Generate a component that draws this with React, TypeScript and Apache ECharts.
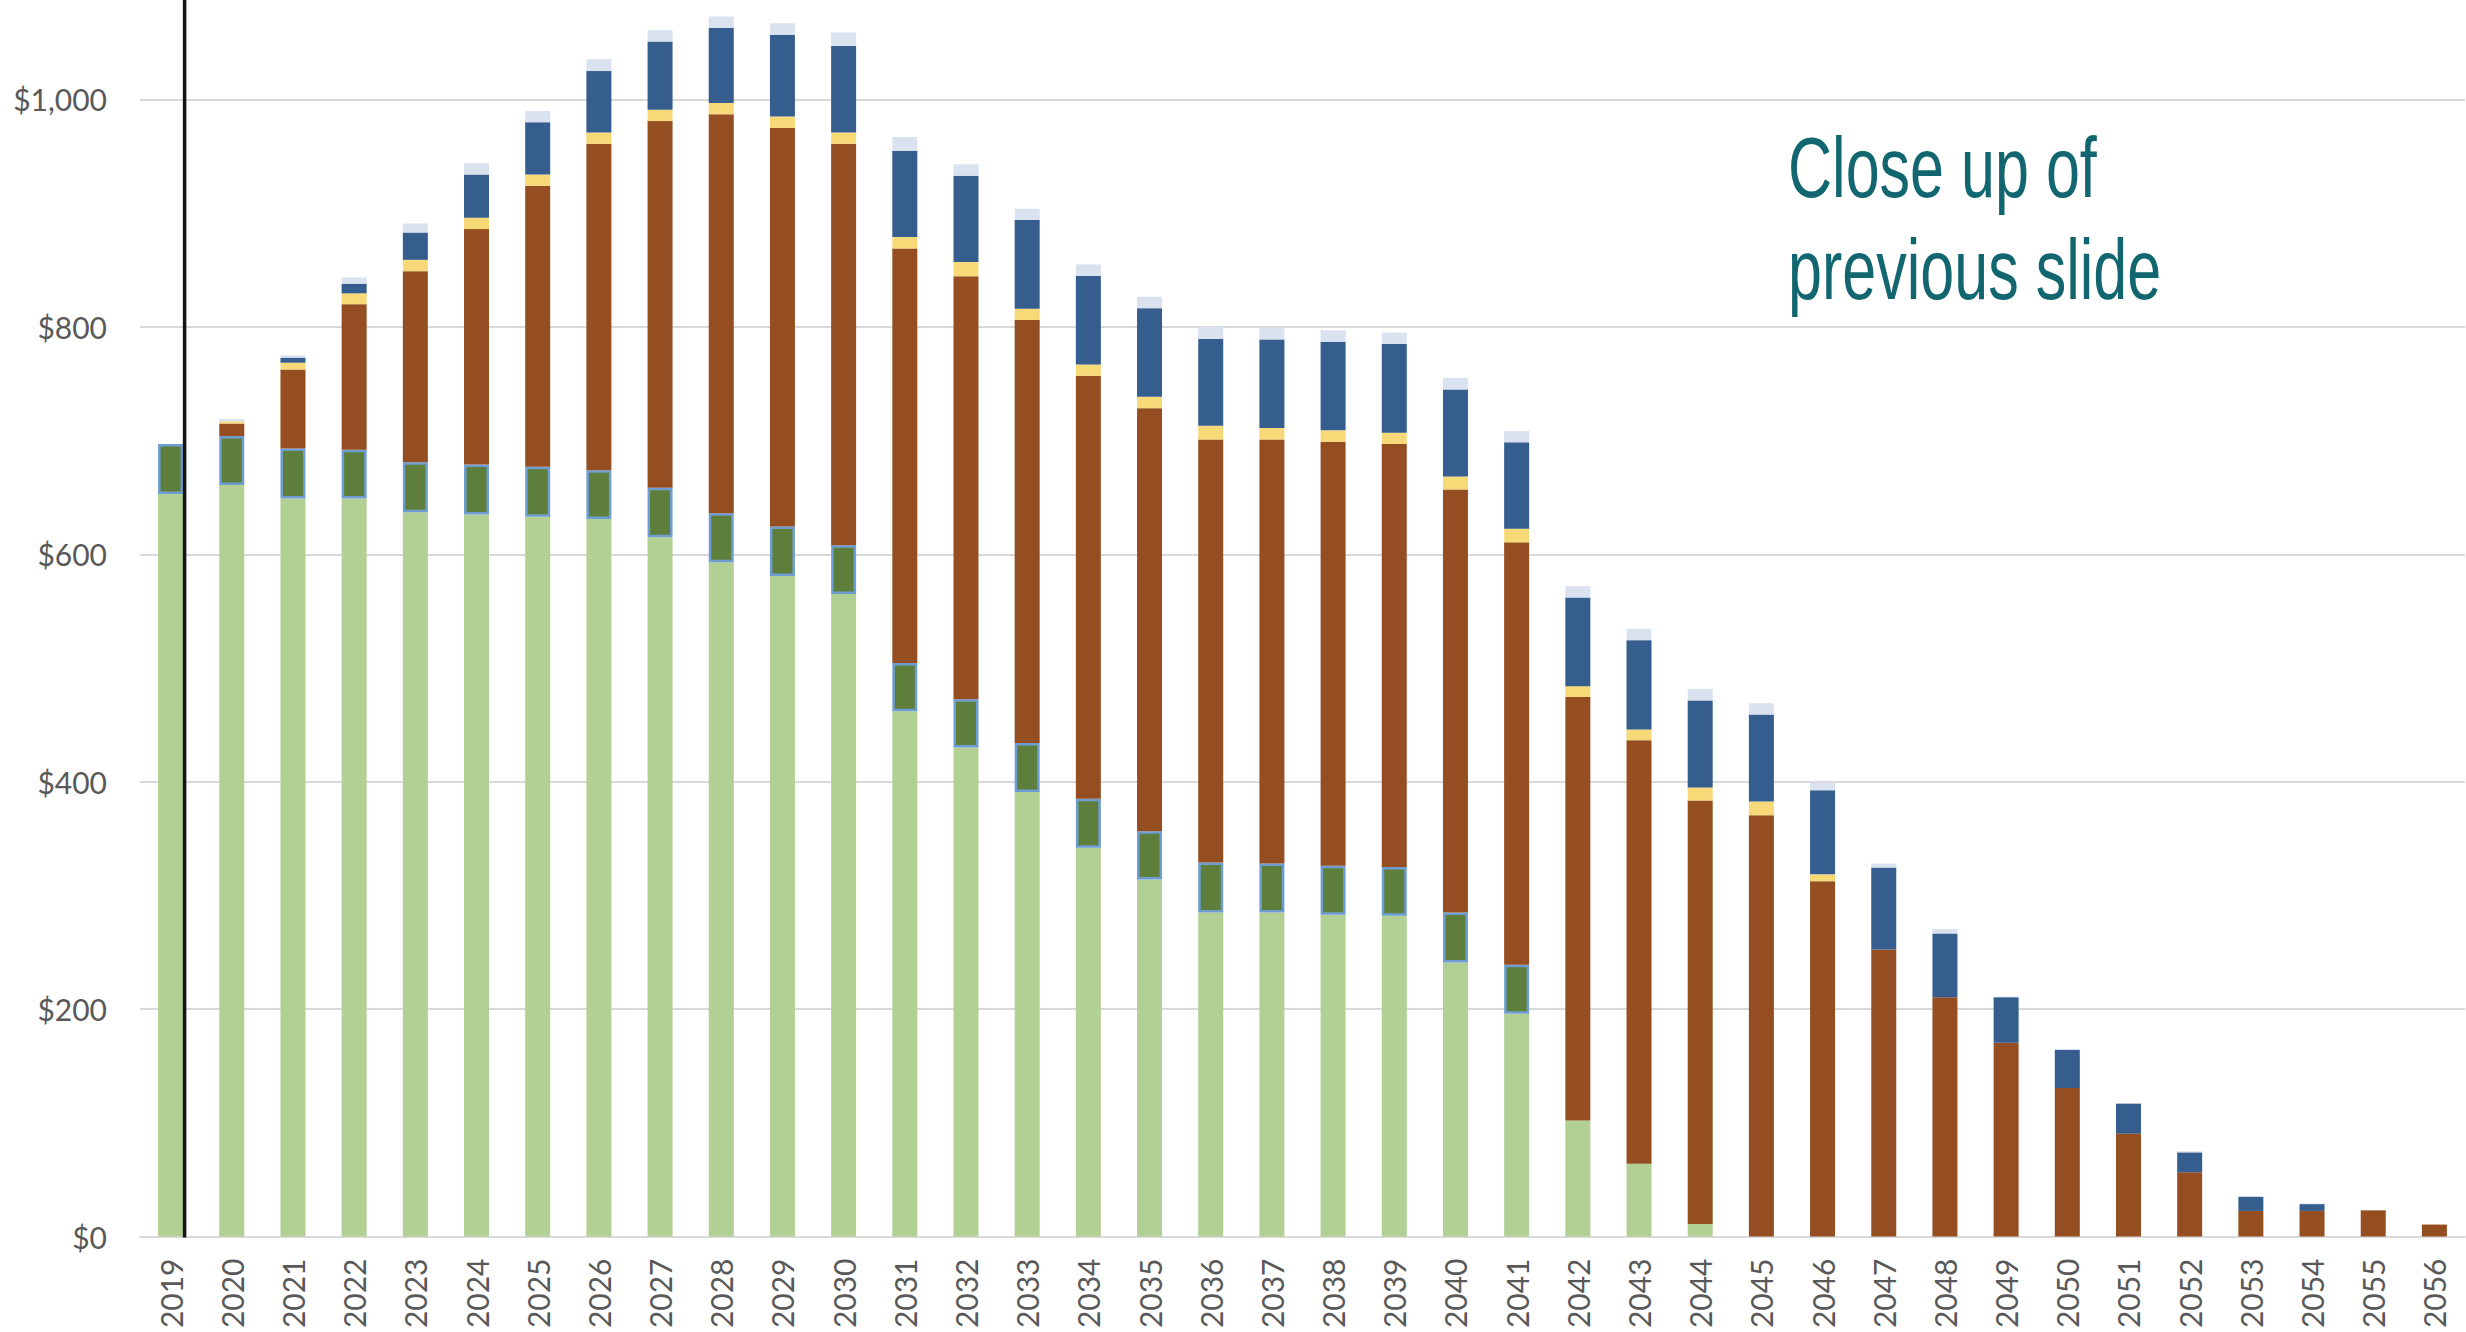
import React, { useEffect, useRef } from "react";
import * as echarts from "echarts";

const years = [
  "2019", "2020", "2021", "2022", "2023", "2024", "2025", "2026", "2027", "2028",
  "2029", "2030", "2031", "2032", "2033", "2034", "2035", "2036", "2037", "2038",
  "2039", "2040", "2041", "2042", "2043", "2044", "2045", "2046", "2047", "2048",
  "2049", "2050", "2051", "2052", "2053", "2054", "2055", "2056",
];

const lightGreen = [
  653, 661, 649, 649, 637, 635, 633, 631, 615, 593,
  581, 565, 462, 430, 391, 342, 314, 285, 285, 283,
  282, 241, 196, 102, 64, 11, 0, 0, 0, 0,
  0, 0, 0, 0, 0, 0, 0, 0,
];

const darkGreen: (number | null)[] = [
  44, 43, 44, 43, 44, 44, 44, 43, 43.5, 43,
  43.5, 43, 42.5, 42.5, 43, 43, 42.5, 44, 43, 43,
  43, 44, 43, null, null, null, null, null, null, null,
  null, null, null, null, null, null, null, null,
];

const brown = [
  0, 11, 69.5, 128, 168, 207, 247, 287, 322.5, 351,
  350.5, 353, 364.5, 372, 372, 372, 372, 372, 373, 373,
  372, 372, 371.5, 372.5, 372.5, 372.5, 370.5, 312.5, 252.5, 210.5,
  170.5, 130.5, 90.5, 56.5, 22.5, 22.5, 23, 10.5,
];

const yellow = [
  0, 2, 6, 9.5, 10, 10, 10, 10, 10, 10,
  10, 10, 10, 12.5, 10, 10, 10, 12, 10, 10,
  10, 11.5, 12, 9.5, 9.5, 11.5, 12, 6, 0, 0,
  0, 0, 0, 0, 0, 0, 0, 0,
];

const blue = [
  0, 0, 4.5, 8.5, 24, 38, 46, 54, 60, 66,
  72, 76, 76, 76, 78, 78, 78, 76.5, 78, 78,
  78, 76.5, 76, 78, 78.5, 76.5, 76.5, 74, 72, 56,
  40, 33.5, 26.5, 17.5, 12.5, 6, 0, 0,
];

const lavender = [
  0, 2, 2, 5.5, 8, 10, 10, 10.5, 10, 10,
  10, 12, 12, 10, 10, 10, 10, 11, 10, 10,
  10, 10, 10, 10, 10, 10, 10, 7, 3.5, 4,
  0.5, 1, 0.5, 1, 0.5, 0.5, 0, 0,
];

const yMin = 0;
const yMax = 1087.5;
const yInterval = 200;

const titleLines = ["Close up of", "previous slide"];

const BAR_W = 25;

export default function App() {
  const ref = useRef<HTMLDivElement>(null);

  useEffect(() => {
    if (!ref.current) return;
    document.body.style.margin = "0";
    const chart = echarts.init(ref.current, undefined, { renderer: "svg" });

    const mk = (name: string, data: (number | null)[], color: string, extra: any = {}) => ({
      name,
      type: "bar",
      stack: "total",
      barWidth: BAR_W,
      data,
      itemStyle: { color, ...extra },
      emphasis: { disabled: true },
    });

    chart.setOption({
      animation: false,
      grid: { left: 140, right: 1, top: 0, bottom: 95.5, containLabel: false },
      xAxis: {
        type: "category",
        data: years,
        axisLine: { show: true, lineStyle: { color: "#D9D9D9", width: 2 } },
        axisTick: { show: false },
        axisLabel: {
          rotate: 90,
          margin: 22,
          color: "#595959",
          fontFamily: "Lato",
          fontSize: 30,
          interval: 0,
        },
      },
      yAxis: {
        type: "value",
        min: yMin,
        max: yMax,
        interval: yInterval,
        axisLine: { show: false },
        axisTick: { show: false },
        splitLine: { showMaxLine: false, lineStyle: { color: "#D9D9D9", width: 2 } },
        axisLabel: {
          margin: 33,
          showMaxLabel: false,
          color: "#595959",
          fontFamily: "Lato",
          fontSize: 30,
          formatter: (v: number) => "$" + v.toLocaleString("en-US"),
        },
      },
      series: [
        mk("Base", lightGreen, "#B2CF94"),
        mk("Dark green", darkGreen, "#5E7F3B", { borderColor: "#6E9DD4", borderWidth: 2.5 }),
        mk("Brown", brown, "#944E21"),
        mk("Yellow", yellow, "#F8D978"),
        mk("Blue", blue, "#355E8E"),
        mk("Lavender", lavender, "#DAE2F0"),
      ],
    });

    const cx = chart.convertToPixel({ xAxisIndex: 0 }, years[0]) as number;
    const y0 = chart.convertToPixel({ yAxisIndex: 0 }, 0) as number;
    const lineX = cx + BAR_W / 2 + 1.5;

    chart.setOption({
      graphic: [
        {
          type: "line",
          shape: { x1: lineX, y1: 0, x2: lineX, y2: y0 + 1 },
          style: { stroke: "#141414", lineWidth: 3.5 },
          z: 100,
        },
        {
          type: "text",
          x: 1788,
          y: 167.5,
          scaleX: 0.71,
          style: {
            text: titleLines[0],
            fill: "#12666F",
            font: '86px "Liberation Sans"',
            verticalAlign: "middle",
            align: "left",
          },
          z: 100,
        },
        {
          type: "text",
          x: 1788,
          y: 269.5,
          scaleX: 0.71,
          style: {
            text: titleLines[1],
            fill: "#12666F",
            font: '86px "Liberation Sans"',
            verticalAlign: "middle",
            align: "left",
          },
          z: 100,
        },
      ],
    });

    return () => chart.dispose();
  }, []);

  return (
    <div
      ref={ref}
      style={{ position: "absolute", left: 0, top: 0, width: 2466, height: 1332 }}
    />
  );
}
